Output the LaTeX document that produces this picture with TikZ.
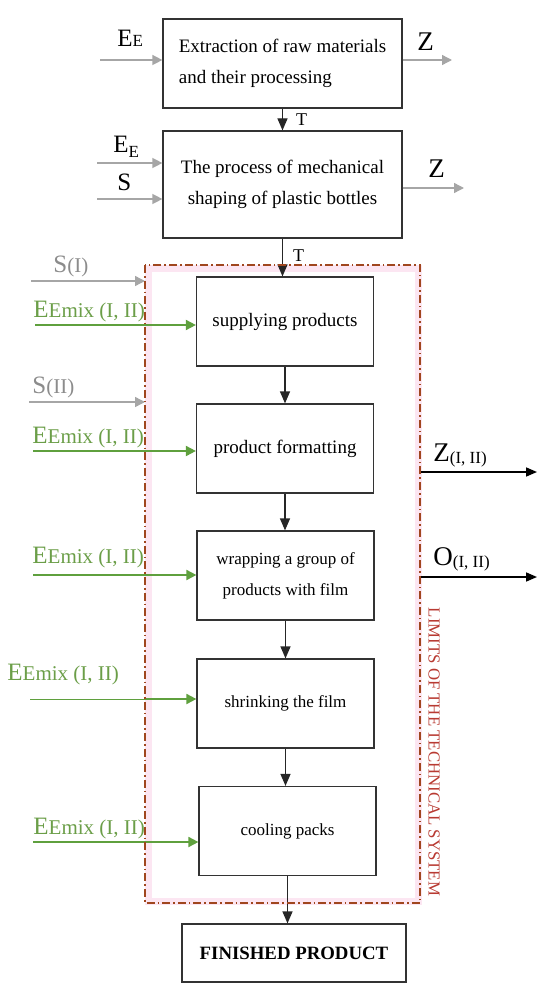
\documentclass[tikz,border=0pt]{standalone}
\usepackage{fontspec}
\setmainfont{Liberation Serif}
\usepackage{xcolor}
\usetikzlibrary{positioning,calc,arrows.meta}
\definecolor{feedgray}{HTML}{A6A6A6}
\definecolor{taggray}{HTML}{8C8C8C}
\definecolor{mixgreen}{HTML}{5FA03E}
\definecolor{mixtext}{HTML}{6B9E48}
\definecolor{limitbrown}{HTML}{A0461E}
\definecolor{limitpink}{HTML}{FCE6F2}
\definecolor{limittext}{HTML}{B83A32}
\newcommand{\flowtag}[2]{{\fontsize{12.5}{14}\selectfont #1}{\fontsize{10.5}{12}\selectfont #2}}
\newcommand{\outtag}[2]{{\fontsize{13.5}{15}\selectfont #1}\raisebox{-1pt}{\fontsize{8.5}{10}\selectfont #2}}

\begin{document}
\begin{tikzpicture}[x=0.5pt, y=-0.5pt,
    stage/.style={draw=black!80, line width=0.6pt, rectangle, minimum width=88.5pt, minimum height=44.5pt, inner sep=2pt, align=center, font=\fontsize{9.5}{15.5}\selectfont},
    smallstage/.style={stage, font=\fontsize{8.5}{15.5}\selectfont},
    tag/.style={inner sep=0pt, anchor=base west},
    flow/.style={draw=black!85, line width=0.6pt, -{Triangle[length=6pt, width=5pt]}},
    feed/.style={draw=feedgray, line width=0.7pt, -{Triangle[length=5pt, width=5pt]}},
    mix/.style={draw=mixgreen, line width=0.9pt, -{Triangle[length=5pt, width=5pt]}},
    emit/.style={draw=black, line width=0.8pt, -{Triangle[length=5.5pt, width=4.5pt]}},
    limit/.style={draw=limitbrown, line width=0.9pt, dash pattern=on 4pt off 1.5pt on 0.8pt off 1.5pt}]
    \useasboundingbox (0,0) rectangle (550,990);

    % technical system limits
    \coordinate (limNW) at (145,265);
    \coordinate (limSE) at (420,903);
    \draw[limitpink, line width=3.5pt] (148,268) rectangle (418,901);

    % process chain
    \node [stage, minimum width=119.5pt, align=left] (extract) at (282.5,63.5) {Extraction of raw materials\\and their processing};
    \node [stage, minimum width=119.5pt, minimum height=53.5pt] (shaping) at (282.5,184.5) {The process of mechanical\\shaping of plastic bottles};
    \node [stage] (supply) at (285,321.5) {supplying products};
    \node [stage] (format) at (285,448.5) {product formatting};
    \node [smallstage] (wrap) at (285.5,575.5) {wrapping a group of\\products with film};
    \node [smallstage] (shrink) at (285.5,703.5) {shrinking the film};
    \node [smallstage] (cool) at (287.5,831) {cooling packs};
    \node [stage, minimum width=112pt, minimum height=29pt, font=\bfseries\fontsize{9.4}{11}\selectfont] (finished) at (294,953) {FINISHED PRODUCT};

    \draw[flow] (extract.south) -- node[pos=0.5, right=5.5pt, inner sep=1pt, font=\fontsize{9}{10}\selectfont] (tOne) {T} (shaping.north);
    \draw[flow] (shaping.south) -- node[pos=0.46, right=4pt, inner sep=1pt, font=\fontsize{9}{10}\selectfont] (tTwo) {T} (shaping.south |- supply.north);
    \draw[flow] (supply.south) -- (supply.south |- format.north);
    \draw[flow] (format.south) -- (format.south |- wrap.north);
    \draw[flow] (wrap.south) -- (wrap.south |- shrink.north);
    \draw[flow] (shrink.south) -- (shrink.south |- cool.north);
    \draw[flow] (cool.south) -- (cool.south |- finished.north);

    % inputs and outputs of the first two stages
    \coordinate (eIn) at (100,60);
    \coordinate (zOut) at (452,60);
    \draw[feed] (eIn) -- (eIn -| extract.west);
    \draw[feed] (zOut -| extract.east) -- (zOut);
    \node [tag] (lblE) at (117,47) {{\fontsize{12.5}{14}\selectfont E}{\fontsize{8.5}{10}\selectfont E}};
    \node [tag] (lblZ) at (417,51) {\fontsize{13.5}{15}\selectfont Z};

    \coordinate (eInTwo) at (97,163);
    \coordinate (sIn) at (97,199);
    \coordinate (zOutTwo) at (464,188);
    \draw[feed] (eInTwo) -- (eInTwo -| shaping.west);
    \draw[feed] (sIn) -- (sIn -| shaping.west);
    \draw[feed] (zOutTwo -| shaping.east) -- (zOutTwo);
    \node [tag] (lblETwo) at (113,153) {{\fontsize{12.5}{14}\selectfont E}\raisebox{-2pt}{\fontsize{8.5}{10}\selectfont E}};
    \node [tag] (lblS) at (117,190) {\fontsize{12.5}{14}\selectfont S};
    \node [tag] (lblZTwo) at (428,177) {\fontsize{13.5}{15}\selectfont Z};

    % packaging line inputs
    \coordinate (sOne) at (31,281);
    \coordinate (sTwo) at (29,402);
    \draw[feed] (sOne) -- (sOne -| limNW);
    \draw[feed] (sTwo) -- (sTwo -| limNW);
    \node [tag, text=taggray] (lblSOne) at (53,272) {\flowtag{S}{(I)}};
    \node [tag, text=taggray] (lblSTwo) at (32,393) {\flowtag{S}{(II)}};

    \coordinate (mixOne) at (35,325);
    \coordinate (mixTwo) at (33,451);
    \coordinate (mixThree) at (33,575);
    \coordinate (mixFour) at (30,699);
    \coordinate (mixFive) at (33,842);
    \draw[mix] (mixOne) -- (mixOne -| supply.west);
    \draw[mix] (mixTwo) -- (mixTwo -| format.west);
    \draw[mix] (mixThree) -- (mixThree -| wrap.west);
    \draw[draw=mixgreen, line width=0.5pt] (mixFour) -- (mixFour -| limNW);
    \draw[mix] (mixFour -| limNW) -- (mixFour -| shrink.west);
    \draw[mix] (mixFive) -- (mixFive -| cool.west);
    \node [tag, text=mixtext] (lblMixOne) at (33,317) {\flowtag{E}{Emix (I, II)}};
    \node [tag, text=mixtext] (lblMixTwo) at (32,443) {\flowtag{E}{Emix (I, II)}};
    \node [tag, text=mixtext] (lblMixThree) at (32,563) {\flowtag{E}{Emix (I, II)}};
    \node [tag, text=mixtext] (lblMixFour) at (7,680) {\flowtag{E}{Emix (I, II)}};
    \node [tag, text=mixtext] (lblMixFive) at (33,834) {\flowtag{E}{Emix (I, II)}};

    % packaging line outputs
    \coordinate (zSys) at (537,472);
    \coordinate (oSys) at (537,577);
    \draw[emit] (zSys -| limSE) -- (zSys);
    \draw[emit] (oSys -| limSE) -- (oSys);
    \node [tag] (lblZSys) at (433,461) {\outtag{Z}{(I, II)}};
    \node [tag] (lblOSys) at (433,565) {\outtag{O}{(I, II)}};

    \draw[limit] (limNW) rectangle (limSE);
    \node [rotate=-90, text=limittext, inner sep=0pt, font=\fontsize{8.4}{10}\selectfont] (limLabel) at (434,752) {LIMITS OF THE TECHNICAL SYSTEM};

\end{tikzpicture}
\end{document}
